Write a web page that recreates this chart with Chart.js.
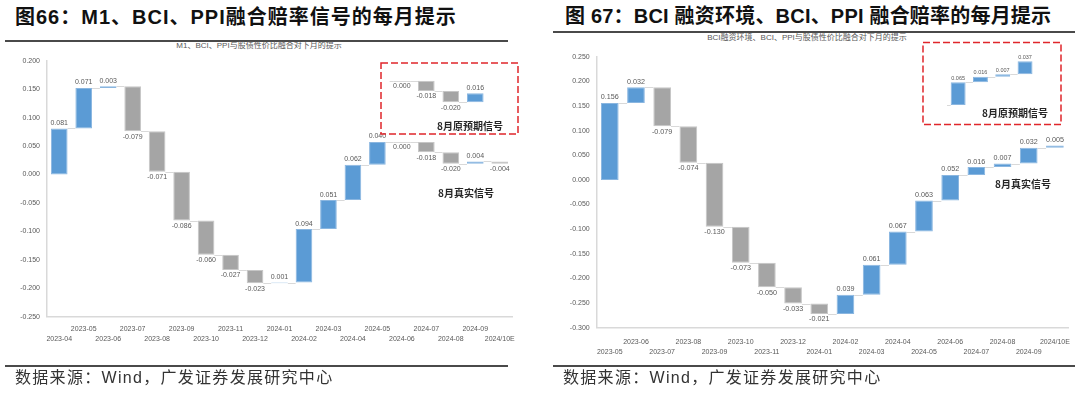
<!DOCTYPE html>
<html>
<head>
<meta charset="utf-8">
<script src="https://cdn.jsdelivr.net/npm/chart.js@4.4.0/dist/chart.umd.min.js"></script>
<style>
  html, body { margin: 0; padding: 0; background: #fff; }
  body { width: 1080px; height: 395px; position: relative; overflow: hidden;
         font-family: "Liberation Sans", Arial, "Noto Sans CJK SC", sans-serif; }
  .abs { position: absolute; white-space: nowrap; }
  .title { font-size: 20px; line-height: 20px; font-weight: bold; color: #111; }
  .rule { height: 2px; background: #4a4a4a; }
  .sub { font-size: 8px; line-height: 10px; color: #595959; transform: translateX(-50%); }
  .note { font-family: "Noto Sans CJK SC"; font-size: 10px; line-height: 12px; font-weight: bold; color: #262626; }
  .src { font-size: 16px; line-height: 16px; color: #333; letter-spacing: 1.3px; }
  canvas { position: absolute; }
  svg { position: absolute; overflow: visible; }
</style>
</head>
<body>

<div class="abs title" style="left:15px;top:7px;letter-spacing:1px">图66：M1、BCI、PPI融合赔率信号的每月提示</div>
<div class="abs rule" style="left:5px;top:40px;width:503px"></div>
<div class="abs sub" style="left:259px;top:41px">M1、BCI、PPI与股债性价比融合对下月的提示</div>

<div class="abs title" style="left:565px;top:6px;letter-spacing:0.2px">图 67：BCI 融资环境、BCI、PPI 融合赔率的每月提示</div>
<div class="abs rule" style="left:553px;top:31px;width:522px"></div>
<div class="abs sub" style="left:807px;top:33px">BCI融资环境、BCI、PPI与股债性价比融合对下月的提示</div>

<canvas id="leftChart" width="530" height="320" style="left:0;top:40px;width:530px;height:320px"></canvas>
<canvas id="leftInset" width="138" height="62" style="left:370px;top:60px;width:138px;height:62px"></canvas>
<canvas id="rightChart" width="535" height="325" style="left:545px;top:36px;width:535px;height:325px"></canvas>
<canvas id="rightInset" width="130" height="75" style="left:927px;top:44px;width:130px;height:75px"></canvas>

<svg style="left:0;top:0" width="1080" height="395">
  <rect x="381" y="63" width="137" height="71" fill="none" stroke="#e0262b" stroke-width="1.5" stroke-dasharray="7 3"/>
  <rect x="923" y="42.5" width="138" height="82" fill="none" stroke="#e0262b" stroke-width="1.5" stroke-dasharray="7 3"/>
</svg>

<div class="abs note" style="left:437px;top:120px">8月原预期信号</div>
<div class="abs note" style="left:438px;top:187px">8月真实信号</div>
<div class="abs note" style="left:982px;top:107px">8月原预期信号</div>
<div class="abs note" style="left:995px;top:178px">8月真实信号</div>

<div class="abs rule" style="left:5px;top:365px;width:503px"></div>
<div class="abs src" style="left:15px;top:370px">数据来源：Wind，广发证券发展研究中心</div>
<div class="abs rule" style="left:553px;top:365px;width:522px"></div>
<div class="abs src" style="left:563px;top:370px">数据来源：Wind，广发证券发展研究中心</div>

<script>
// 图66：M1、BCI、PPI 融合信号
var leftMonths = ['2023-04', '2023-05', '2023-06', '2023-07', '2023-08', '2023-09', '2023-10',
    '2023-11', '2023-12', '2024-01', '2024-02', '2024-03', '2024-04', '2024-05', '2024-06',
    '2024-07', '2024-08', '2024-09', '2024/10E'];
var leftSignal = [0.081, 0.071, 0.003, -0.079, -0.071, -0.086, -0.060, -0.027, -0.023, 0.001,
    0.094, 0.051, 0.062, 0.040, 0.000, -0.018, -0.020, 0.004, -0.004];
// 8月原预期信号
var leftExpMonths = ['2024-06', '2024-07', '2024-08', '2024-09'];
var leftExpected = [0.000, -0.018, -0.020, 0.016];

// 图67：BCI融资环境、BCI、PPI 融合信号
var rightMonths = ['2023-05', '2023-06', '2023-07', '2023-08', '2023-09', '2023-10', '2023-11',
    '2023-12', '2024-01', '2024-02', '2024-03', '2024-04', '2024-05', '2024-06', '2024-07',
    '2024-08', '2024-09', '2024/10E'];
var rightSignal = [0.156, 0.032, -0.079, -0.074, -0.130, -0.073, -0.050, -0.033, -0.021, 0.039,
    0.061, 0.067, 0.063, 0.052, 0.016, 0.007, 0.032, 0.005];
var rightExpMonths = ['2024-06', '2024-07', '2024-08', '2024-09'];
var rightExpected = [0.065, 0.016, 0.007, 0.037];

var leftRange = [-0.25, 0.2];
var rightRange = [-0.3, 0.25];
var yStep = 0.05;

var BLUE = '#5b9bd5', GREY = '#a5a5a5';

Chart.defaults.font.family = '"Liberation Sans", Arial, sans-serif';

// running totals -> [from, to] for each floating bar
function steps(values) {
    var acc = 0;
    return values.map(function (v) {
        var from = acc;
        acc += v;
        return [from, acc];
    });
}

// connector lines + value labels, like Excel's waterfall
var waterfallPlugin = {
    id: 'waterfall',
    beforeDatasetsDraw: function (chart, args, opts) {
        var ctx = chart.ctx, y = chart.scales.y;
        var bars = chart.getDatasetMeta(0).data;
        var pairs = steps(opts.values);
        ctx.save();
        ctx.strokeStyle = '#d9d9d9';
        ctx.lineWidth = 1;
        bars.forEach(function (bar, i) {
            var px = Math.round(y.getPixelForValue(pairs[i][1])) + 0.5;
            var left = bar.x - bar.width / 2, right = bar.x + bar.width / 2;
            ctx.beginPath();
            if (i === 0 && opts.lead) {
                var py = Math.round(y.getPixelForValue(pairs[0][0])) + 0.5;
                ctx.moveTo(chart.chartArea.left, py);
                ctx.lineTo(left, py);
            }
            if (opts.values[i] === 0) {
                ctx.moveTo(left, px);
                ctx.lineTo(right, px);
            }
            if (i < bars.length - 1) {
                var next = bars[i + 1];
                ctx.moveTo(right, px);
                ctx.lineTo(next.x - next.width / 2, px);
            }
            ctx.stroke();
        });
        ctx.restore();
    },
    afterDatasetsDraw: function (chart, args, opts) {
        var ctx = chart.ctx, y = chart.scales.y;
        var bars = chart.getDatasetMeta(0).data;
        var pairs = steps(opts.values);
        ctx.save();
        ctx.font = opts.fontSize + 'px "Liberation Sans", Arial, sans-serif';
        ctx.fillStyle = '#595959';
        ctx.textAlign = 'center';
        ctx.textBaseline = 'middle';
        bars.forEach(function (bar, i) {
            var v = opts.values[i];
            var hi = Math.max(pairs[i][0], pairs[i][1]);
            var lo = Math.min(pairs[i][0], pairs[i][1]);
            var txt = v.toFixed(3);
            if (v > 0) {
                ctx.fillText(txt, bar.x, y.getPixelForValue(hi) - opts.gap);
            } else {
                ctx.fillText(txt, bar.x, y.getPixelForValue(lo) + opts.gap);
            }
        });
        ctx.restore();
    }
};

function waterfallChart(id, months, values, o) {
    var scales;
    if (o.inset) {
        scales = {
            x: { display: false },
            y: { display: false, min: o.range[0], max: o.range[1] }
        };
    } else {
        scales = {
            x: {
                grid: { display: false, drawTicks: false },
                border: { display: true, color: '#d9d9d9', width: 1.5 },
                ticks: {
                    autoSkip: false, maxRotation: 0, minRotation: 0,
                    padding: o.xPad, color: '#595959',
                    font: { size: 7, lineHeight: o.xLine },
                    callback: function (v, i) {
                        return i % 2 === 0 ? ['', months[i]] : months[i];
                    }
                },
                afterFit: function (s) { s.height = o.xH; }
            },
            y: {
                min: o.range[0], max: o.range[1],
                grid: { display: false, drawTicks: false },
                border: { display: true, color: '#d9d9d9', width: 1.5 },
                ticks: {
                    stepSize: yStep, padding: 7, color: '#595959',
                    font: { size: 7 },
                    callback: function (v) {
                        return (Math.abs(v) < 1e-9 ? 0 : v).toFixed(3);
                    }
                },
                afterFit: function (s) { s.width = o.yW; }
            }
        };
    }
    return new Chart(document.getElementById(id), {
        type: 'bar',
        data: {
            labels: months,
            datasets: [{
                data: steps(values),
                backgroundColor: values.map(function (v) { return v > 0 ? BLUE : GREY; }),
                borderColor: values.map(function (v) { return v > 0 ? '#8ab6e0' : '#c6c6c6'; }),
                borderWidth: values.map(function (v) { return v === 0 ? 0 : 1; }),
                borderSkipped: false,
                barPercentage: o.bar,
                categoryPercentage: 1
            }]
        },
        options: {
            responsive: false,
            animation: false,
            layout: { padding: o.pad },
            plugins: {
                legend: { display: false },
                tooltip: { enabled: false },
                waterfall: { values: values, fontSize: o.fontSize, gap: o.gap, lead: o.lead }
            },
            scales: scales
        },
        plugins: [waterfallPlugin]
    });
}

document.addEventListener('DOMContentLoaded', function () {
    waterfallChart('leftChart', leftMonths, leftSignal, {
        range: leftRange, bar: 0.68, fontSize: 7, gap: 5.5,
        pad: { left: 0, right: 18, top: 20.7, bottom: 13.3 },
        yW: 47, xH: 30, xPad: 7, xLine: 1.5
    });
    waterfallChart('leftInset', leftExpMonths, leftExpected, {
        inset: true, lead: true, range: [-0.045, 0.01], bar: 0.68, fontSize: 7, gap: 5.5,
        pad: { left: 19.6, right: 20.5, top: 15, bottom: 15.7 }
    });
    waterfallChart('rightChart', rightMonths, rightSignal, {
        range: rightRange, bar: 0.675, fontSize: 7.2, gap: 5.5,
        pad: { left: 0, right: 12, top: 20.7, bottom: 5.3 },
        yW: 51.7, xH: 28, xPad: 9, xLine: 1.43
    });
    waterfallChart('rightInset', rightExpMonths, rightExpected, {
        inset: true, lead: true, range: [-0.01, 0.14], bar: 0.67, fontSize: 5.5, gap: 4,
        pad: { left: 20, right: 20.8, top: 12, bottom: 10.5 }
    });
});
</script>
</body>
</html>
